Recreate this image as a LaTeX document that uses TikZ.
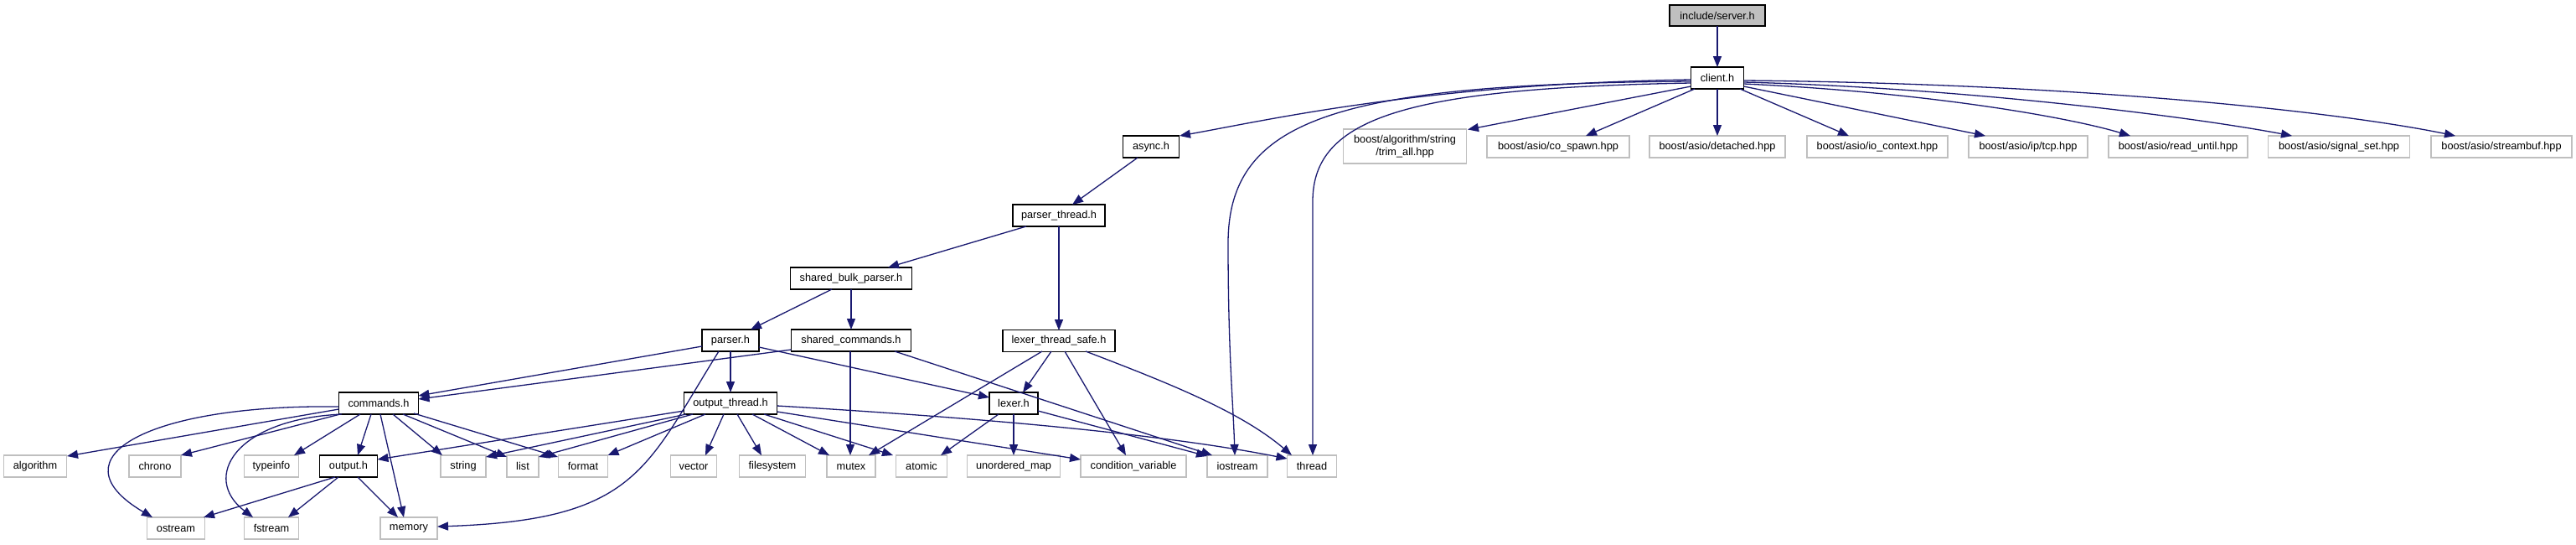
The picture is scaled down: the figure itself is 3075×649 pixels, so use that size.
\documentclass[tikz,border=0pt]{standalone}
\usepackage{fontspec}
\setmainfont{Liberation Sans}
\usetikzlibrary{arrows.meta,calc}
\definecolor{edgec}{HTML}{191970}
\definecolor{gry}{HTML}{BFBFBF}
\begin{document}
\begin{tikzpicture}[x=1pt,y=-1pt,
  box/.style={rectangle, inner sep=0pt, minimum height=26pt, font=\fontsize{12.75}{15.5}\selectfont, line width=1.6pt},
  intb/.style={box, draw=black, fill=white},
  extb/.style={box, draw=gry, fill=white},
  rootb/.style={box, draw=black, fill=gry},
  dep/.style={draw=edgec, line width=1.3pt, -{Triangle[length=13pt,width=10pt]}},
]
\useasboundingbox (0,0) rectangle (3075,649);
\fill[white] (0,0) rectangle (3075,649);

% nodes
\node[rootb, minimum width=114pt, minimum height=25pt] (server) at (2050,18.5) {include/server.h};
\node[intb, minimum width=63pt] (client) at (2050,93) {client.h};
\node[intb, minimum width=67pt] (async) at (1374,175) {async.h};
\node[extb, minimum width=147pt, minimum height=41pt, align=center] (trim) at (1677,174.5) {boost/algorithm/string\\/trim\_all.hpp};
\node[extb, minimum width=170pt] (cospawn) at (1860,175) {boost/asio/co\_spawn.hpp};
\node[extb, minimum width=162pt] (detached) at (2050,175) {boost/asio/detached.hpp};
\node[extb, minimum width=168pt] (ioctx) at (2241,175) {boost/asio/io\_context.hpp};
\node[extb, minimum width=142pt] (tcp) at (2421,175) {boost/asio/ip/tcp.hpp};
\node[extb, minimum width=166pt] (readuntil) at (2600,175) {boost/asio/read\_until.hpp};
\node[extb, minimum width=169pt] (sigset) at (2792,175) {boost/asio/signal\_set.hpp};
\node[extb, minimum width=168pt] (streambuf) at (2986,175) {boost/asio/streambuf.hpp};
\node[intb, minimum width=110pt] (pthread) at (1264,257) {parser\_thread.h};
\node[intb, minimum width=145pt] (sbp) at (1016,332) {shared\_bulk\_parser.h};
\node[intb, minimum width=134pt] (lts) at (1264,406.5) {lexer\_thread\_safe.h};
\node[intb, minimum width=68pt] (parser) at (872,406) {parser.h};
\node[intb, minimum width=143pt] (scmd) at (1016,406) {shared\_commands.h};
\node[intb, minimum width=95pt] (commands) at (452,481) {commands.h};
\node[intb, minimum width=111pt] (othread) at (872,481) {output\_thread.h};
\node[intb, minimum width=58pt] (lexer) at (1210,481) {lexer.h};
\node[extb, minimum width=75pt] (algorithm) at (42,556) {algorithm};
\node[extb, minimum width=62pt] (chrono) at (185,556) {chrono};
\node[extb, minimum width=65pt] (typeinfo) at (324,556) {typeinfo};
\node[intb, minimum width=69pt] (output) at (416,556) {output.h};
\node[extb, minimum width=54pt] (string) at (553,556) {string};
\node[extb, minimum width=38pt] (list) at (624,556) {list};
\node[extb, minimum width=59pt] (format) at (696,556) {format};
\node[extb, minimum width=55pt] (vector) at (828,556) {vector};
\node[extb, minimum width=79pt] (filesystem) at (922,556) {filesystem};
\node[extb, minimum width=58pt] (mutex) at (1016,556) {mutex};
\node[extb, minimum width=61pt] (atomic) at (1100,556) {atomic};
\node[extb, minimum width=111pt] (umap) at (1210,556) {unordered\_map};
\node[extb, minimum width=126pt] (condvar) at (1353,556) {condition\_variable};
\node[extb, minimum width=72pt] (iostream) at (1477,556) {iostream};
\node[extb, minimum width=59pt] (thread) at (1566,556) {thread};
\node[extb, minimum width=69pt] (ostream) at (210,630) {ostream};
\node[extb, minimum width=65pt] (fstream) at (324,630) {fstream};
\node[extb, minimum width=68pt] (memory) at (488,630) {memory};

% edges
\draw[dep] ($(server)+(0,12.5)$) -- ($(client)+(0,-13)$);
\draw[dep] ($(client)+(-31.5,2)$) .. controls (1700,100) and (1515,143) .. ($(async)+(34,-13)$);
\draw[dep] ($(client)+(-31.5,10)$) -- ($(trim)+(75,-20)$);
\draw[dep] ($(client)+(-27,13)$) -- ($(cospawn)+(33,-13)$);
\draw[dep] ($(client)+(0,13)$) -- ($(detached)+(0,-13)$);
\draw[dep] ($(client)+(27,13)$) -- ($(ioctx)+(-34,-13)$);
\draw[dep] ($(client)+(31.5,10)$) -- ($(tcp)+(-51,-13)$);
\draw[dep] ($(client)+(31.5,7)$) .. controls (2300,110) and (2470,140) .. ($(readuntil)+(-57,-13)$);
\draw[dep] ($(client)+(31.5,5)$) .. controls (2350,105) and (2620,140) .. ($(sigset)+(-56,-13)$);
\draw[dep] ($(client)+(31.5,3)$) .. controls (2500,100) and (2800,135) .. ($(streambuf)+(-55,-13)$);
\draw[dep] ($(client)+(-31.5,4)$) .. controls (1600,100) and (1466,140) .. (1466,290) .. controls (1466,420) and (1472,480) .. ($(iostream)+(-3,-13)$);
\draw[dep] ($(client)+(-31.5,6)$) .. controls (1680,105) and (1567,140) .. (1567,240) -- ($(thread)+(1,-13)$);

\draw[dep] ($(async)+(-16,13)$) -- ($(pthread)+(16,-13)$);
\draw[dep] ($(pthread)+(-39,13)$) -- ($(sbp)+(44,-13)$);
\draw[dep] ($(pthread)+(0,13)$) -- ($(lts)+(0,-12.5)$);
\draw[dep] ($(sbp)+(-23,13)$) -- ($(parser)+(24,-13)$);
\draw[dep] ($(sbp)+(0,13)$) -- ($(scmd)+(0,-13)$);

\draw[dep] ($(parser)+(-34,7)$) -- ($(commands)+(47.5,-9)$);
\draw[dep] ($(scmd)+(-71.5,11)$) -- ($(commands)+(47.5,-5)$);
\draw[dep] ($(parser)+(34,8)$) -- ($(lexer)+(-29,-7)$);
\draw[dep] ($(parser)+(0,13)$) -- ($(othread)+(0,-13)$);
\draw[dep] ($(parser)+(-14,13)$) .. controls (770,560) and (760,620) .. ($(memory)+(34,-2)$);
\draw[dep] ($(scmd)+(-1,13)$) -- ($(mutex)+(-1,-13)$);
\draw[dep] ($(scmd)+(52,13)$) -- ($(iostream)+(-30,-13)$);

\draw[dep] ($(lts)+(-9,12.5)$) -- ($(lexer)+(11,-13)$);
\draw[dep] ($(lts)+(-20,12.5)$) -- ($(mutex)+(21,-13)$);
\draw[dep] ($(lts)+(7,12.5)$) -- ($(condvar)+(-9,-13)$);
\draw[dep] ($(lts)+(32,12.5)$) .. controls (1390,455) and (1480,490) .. ($(thread)+(-24,-13)$);

\draw[dep] ($(lexer)+(-18,13)$) -- ($(atomic)+(23,-13)$);
\draw[dep] ($(lexer)+(0,13)$) -- ($(umap)+(0,-13)$);
\draw[dep] ($(lexer)+(29,9)$) -- ($(iostream)+(-36,-12)$);

\draw[dep] ($(commands)+(-47.5,7)$) -- ($(algorithm)+(38,-12)$);
\draw[dep] ($(commands)+(-46,13)$) -- ($(chrono)+(31,-13)$);
\draw[dep] ($(commands)+(-22,13)$) -- ($(typeinfo)+(27,-13)$);
\draw[dep] ($(commands)+(-9,13)$) -- ($(output)+(11,-13)$);
\draw[dep] ($(commands)+(2,13)$) -- ($(memory)+(-6,-13)$);
\draw[dep] ($(commands)+(17,13)$) -- ($(string)+(-25,-13)$);
\draw[dep] ($(commands)+(29,13)$) -- ($(list)+(-19,-11)$);
\draw[dep] ($(commands)+(42,12)$) -- ($(format)+(-30,-11)$);
\draw[dep] ($(commands)+(-47.5,4)$) .. controls (180,482) and (60,545) .. ($(ostream)+(-28,-13)$);
\draw[dep] ($(commands)+(-44,13)$) .. controls (280,500) and (240,570) .. ($(fstream)+(-22,-13)$);

\draw[dep] ($(othread)+(-55.5,9)$) -- ($(output)+(34.5,-8)$);
\draw[dep] ($(othread)+(-53,13)$) -- ($(string)+(27,-11)$);
\draw[dep] ($(othread)+(-45,13)$) -- ($(list)+(19,-11)$);
\draw[dep] ($(othread)+(-30,13)$) -- ($(format)+(29.5,-13)$);
\draw[dep] ($(othread)+(-8,13)$) -- ($(vector)+(14,-13)$);
\draw[dep] ($(othread)+(8,13)$) -- ($(filesystem)+(-13,-13)$);
\draw[dep] ($(othread)+(26,13)$) -- ($(mutex)+(-26,-13)$);
\draw[dep] ($(othread)+(40,13)$) -- ($(atomic)+(-34,-13)$);
\draw[dep] ($(othread)+(55.5,10)$) -- ($(condvar)+(-63,-8)$);
\draw[dep] ($(othread)+(55.5,3)$) .. controls (1200,500) and (1400,520) .. ($(thread)+(-29.5,-9)$);

\draw[dep] ($(output)+(-16,13)$) -- ($(ostream)+(33,-13)$);
\draw[dep] ($(output)+(-12,13)$) -- ($(fstream)+(20,-13)$);
\draw[dep] ($(output)+(11,13)$) -- ($(memory)+(-13,-13)$);
\end{tikzpicture}
\end{document}
